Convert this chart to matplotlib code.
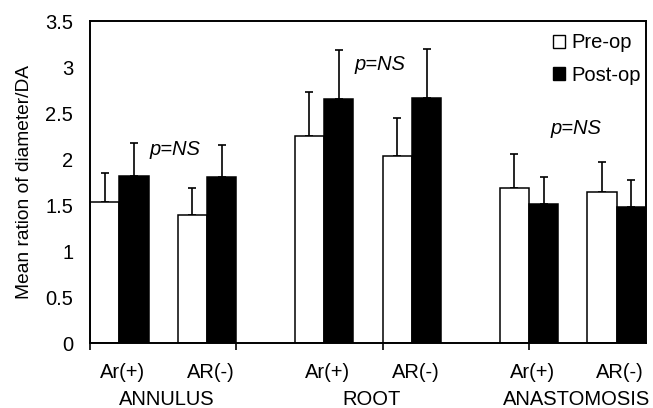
import matplotlib
matplotlib.use("Agg")
import matplotlib.pyplot as plt
from matplotlib.patches import Patch
import numpy as np

plt.rcParams['font.family'] = ['Liberation Sans', 'DejaVu Sans']

groups = ["ANNULUS", "ROOT", "ANASTOMOSIS"]
subgroups = ["Ar(+)", "AR(-)"]
pre_op = [1.53, 1.39, 2.25, 2.03, 1.69, 1.64]
pre_err = [0.32, 0.29, 0.48, 0.42, 0.36, 0.33]
post_op = [1.81, 1.80, 2.65, 2.66, 1.51, 1.48]
post_err = [0.36, 0.35, 0.54, 0.54, 0.29, 0.29]
p_text = ["p=NS", "p=NS", "p=NS"]
p_x = [2.9, 9.9, 16.6]
p_y = [2.10, 3.03, 2.33]

FS = 14.5

fig = plt.figure(figsize=(6.53, 4.08), dpi=100)
ax = fig.add_axes([0.1378, 0.1593, 0.8515, 0.7892])

w = 1.0
lefts = []
for g in range(len(groups)):
    for s in range(len(subgroups)):
        lefts.append(g * 7 + s * 3)
lefts = np.array(lefts, dtype=float)

ax.bar(lefts, pre_op, width=w, align='edge', color='white', edgecolor='black', linewidth=1.1, zorder=2)
ax.bar(lefts + w, post_op, width=w, align='edge', color='black', edgecolor='black', linewidth=1.1, zorder=2)
ax.errorbar(lefts + w / 2, pre_op, yerr=[np.zeros(6), pre_err], fmt='none', ecolor='black',
            elinewidth=1.2, capsize=3, capthick=1.2, zorder=1)
ax.errorbar(lefts + 1.5 * w, post_op, yerr=[np.zeros(6), post_err], fmt='none', ecolor='black',
            elinewidth=1.2, capsize=3, capthick=1.2, zorder=1)

ax.set_xlim(0, 19)
ax.set_ylim(0, 3.5)
ax.set_yticks(np.arange(0, 3.51, 0.5))
ax.set_yticklabels(["0", "0.5", "1", "1.5", "2", "2.5", "3", "3.5"], fontsize=FS)
ax.tick_params(axis='y', length=0, pad=12)
ax.set_xticks([0, 5, 10, 15])
ax.set_xticklabels([])
ax.tick_params(axis='x', length=5, width=1.2, direction='out')
for sp in ax.spines.values():
    sp.set_linewidth(1.4)

ax.set_ylabel("Mean ration of diameter/DA", fontsize=13.8)
ax.yaxis.set_label_coords(-0.1025, 0.50)

xt = ax.get_xaxis_transform()
off = 0.12
for i, x in enumerate(lefts):
    ax.text(x + w + off, -0.062, subgroups[i % 2], ha='center', va='top', fontsize=FS,
            transform=xt)
for g in range(len(groups)):
    xc = (lefts[2 * g] + lefts[2 * g + 1]) / 2 + w + off
    ax.text(xc, -0.146, groups[g], ha='center', va='top', fontsize=FS, transform=xt)

for g in range(len(groups)):
    ax.text(p_x[g], p_y[g], p_text[g], ha='center', va='center', fontsize=FS, style='italic')

handles = [Patch(facecolor='white', edgecolor='black', linewidth=1.0, label='Pre-op'),
           Patch(facecolor='black', edgecolor='black', linewidth=1.0, label='Post-op')]
ax.legend(handles=handles, loc='upper right', bbox_to_anchor=(0.991, 0.962), frameon=False,
          fontsize=14.5, handlelength=0.62, handleheight=0.62, handletextpad=0.3,
          labelspacing=0.66, borderaxespad=0, borderpad=0)

fig.savefig("out.png", dpi=100)
